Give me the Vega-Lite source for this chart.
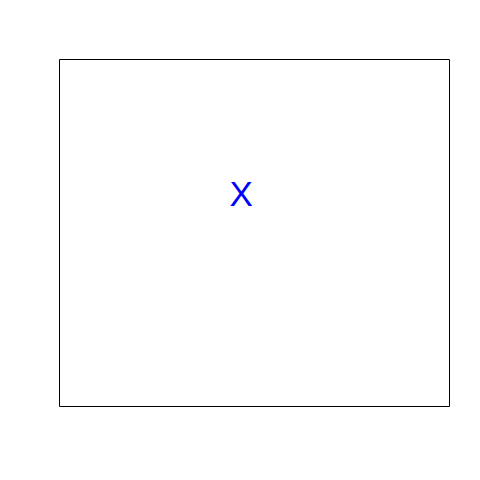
{
  "$schema": "https://vega.github.io/schema/vega-lite/v6.json",
  "autosize": {"type": "none"},
  "padding": {"left": 59, "top": 59, "right": 31, "bottom": 74},
  "width": 390,
  "height": 347,
  "background": "white",
  "config": {"view": {"stroke": "black", "strokeWidth": 1}},
  "data": {"values": [{"x": 0.467, "y": 0.607, "label": "X"}]},
  "mark": {"type": "text", "font": "Liberation Sans", "fontSize": 35, "color": "blue", "baseline": "middle", "align": "center"},
  "encoding": {
    "x": {"field": "x", "type": "quantitative", "scale": {"domain": [0, 1]}, "axis": null},
    "y": {"field": "y", "type": "quantitative", "scale": {"domain": [0, 1]}, "axis": null},
    "text": {"field": "label"}
  }
}
